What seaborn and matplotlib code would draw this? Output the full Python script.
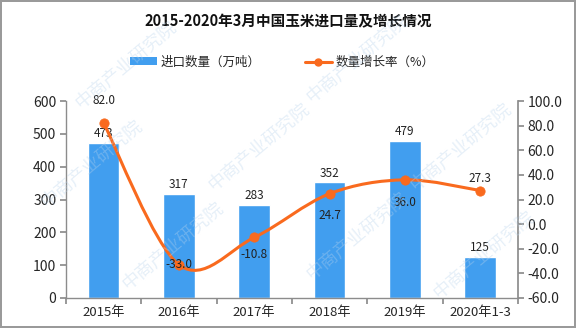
import matplotlib
matplotlib.use("Agg")
import matplotlib.pyplot as plt
import seaborn as sns
import pandas as pd
import numpy as np
from matplotlib.path import Path
from matplotlib.patches import PathPatch
from matplotlib.lines import Line2D
from matplotlib.patches import Patch

categories = ["2015年", "2016年", "2017年", "2018年", "2019年", "2020年1-3"]
imports = [473, 317, 283, 352, 479, 125]
growth = [82.0, -33.0, -10.8, 24.7, 36.0, 27.3]
left_ticks = [0, 100, 200, 300, 400, 500, 600]
right_ticks = [-60, -40, -20, 0, 20, 40, 60, 80, 100]

sns.set_theme(style="white")
plt.rcParams['font.family'] = ['Noto Sans CJK SC', 'DejaVu Sans']
plt.rcParams['axes.unicode_minus'] = False

BLUE = "#419EEF"
ORANGE = "#F96A1E"
GRAY = "#8c8c8c"

fig = plt.figure(figsize=(5.76, 3.28), dpi=100)
fig.patch.set_edgecolor("#9a9a9a")
fig.patch.set_linewidth(1.5)
ax = fig.add_axes([0.1146, 0.0915, 0.899 - 0.1146, 0.692 - 0.0915])

df = pd.DataFrame({"cat": categories, "val": imports})
sns.barplot(data=df, x="cat", y="val", color=BLUE, saturation=1, width=0.42, ax=ax, zorder=2)
ax.set_xlim(-0.5, len(categories) - 0.5)
ax.set_ylim(0, 600)
ax.set_yticks(left_ticks)
ax.set_xlabel("")
ax.set_ylabel("")
for i, v in enumerate(imports):
    ax.text(i, v + 8, f"{v}", ha="center", va="bottom", fontsize=8.5, color="#222222")

ax.set_xticks(np.arange(-0.5, len(categories)), minor=False)
ax.set_xticklabels([])
ax.set_xticks(np.arange(len(categories)), minor=True)
ax.set_xticklabels(categories, minor=True, fontsize=9.5)
ax.tick_params(axis="x", which="major", direction="out", length=4, color=GRAY, bottom=True)
ax.tick_params(axis="x", which="minor", length=0, pad=6)
ax.tick_params(axis="y", direction="out", length=4, color=GRAY, left=True, labelsize=10, pad=3)
for s in ["top", "right"]:
    ax.spines[s].set_visible(False)
for s in ["left", "bottom"]:
    ax.spines[s].set_color(GRAY)
    ax.spines[s].set_linewidth(1)

ax2 = ax.twinx()
ax2.set_ylim(-60, 100)
ax2.set_yticks(right_ticks)
ax2.set_yticklabels([f"{t:.1f}" for t in right_ticks])
ax2.tick_params(axis="y", direction="out", length=4, color=GRAY, right=True, labelsize=10, pad=3)
for s in ["top", "left", "bottom"]:
    ax2.spines[s].set_visible(False)
ax2.spines["right"].set_color(GRAY)
ax2.grid(False)

# smoothed line (Catmull-Rom as Bezier path through data points)
xs = np.arange(len(growth), dtype=float)
ys = np.array(growth, dtype=float)
P = np.column_stack([xs, ys])
verts = [P[0]]
codes = [Path.MOVETO]
for i in range(len(P) - 1):
    p0 = P[i - 1] if i > 0 else P[i]
    p1 = P[i]
    p2 = P[i + 1]
    p3 = P[i + 2] if i + 2 < len(P) else P[i + 1]
    c1 = p1 + (p2 - p0) / 6.0
    c2 = p2 - (p3 - p1) / 6.0
    verts += [c1, c2, p2]
    codes += [Path.CURVE4] * 3
ax2.add_patch(PathPatch(Path(verts, codes), fill=False, edgecolor=ORANGE, lw=2.2, zorder=4))
sns.scatterplot(x=xs, y=ys, color=ORANGE, s=45, edgecolor=ORANGE, ax=ax2, zorder=5, legend=False)

offsets = [16, 0, -12, -16, -16, 9]
for i, g in enumerate(growth):
    ax2.annotate(f"{g:.1f}", (i, g), xytext=(0, offsets[i]), textcoords="offset points",
                 ha="center", va="center", fontsize=8.5, color="#222222", zorder=6)

fig.text(0.5, 0.935, "2015-2020年3月中国玉米进口量及增长情况", ha="center", va="center",
         fontsize=10.5, fontweight="bold", color="#111111")

handles = [Patch(facecolor=BLUE, edgecolor="none"),
           Line2D([0], [0], color=ORANGE, lw=2.2, marker="o", markersize=5)]
fig.legend(handles, ["进口数量（万吨）", "数量增长率（%）"], loc="center", bbox_to_anchor=(0.49, 0.81),
           ncol=2, frameon=False, fontsize=9, handlelength=2.2, handleheight=0.6,
           columnspacing=3.5, handletextpad=0.3)

# watermark
for (x, y) in [(0.22, 0.8), (0.62, 0.82), (0.16, 0.5), (0.45, 0.55), (0.8, 0.55),
               (0.3, 0.25), (0.62, 0.28), (0.84, 0.22)]:
    fig.text(x, y, "中商产业研究院", rotation=40, ha="center", va="center", fontsize=13,
             color="#b8d3ec", alpha=0.35, zorder=10)

fig.savefig("out.png", dpi=100)
